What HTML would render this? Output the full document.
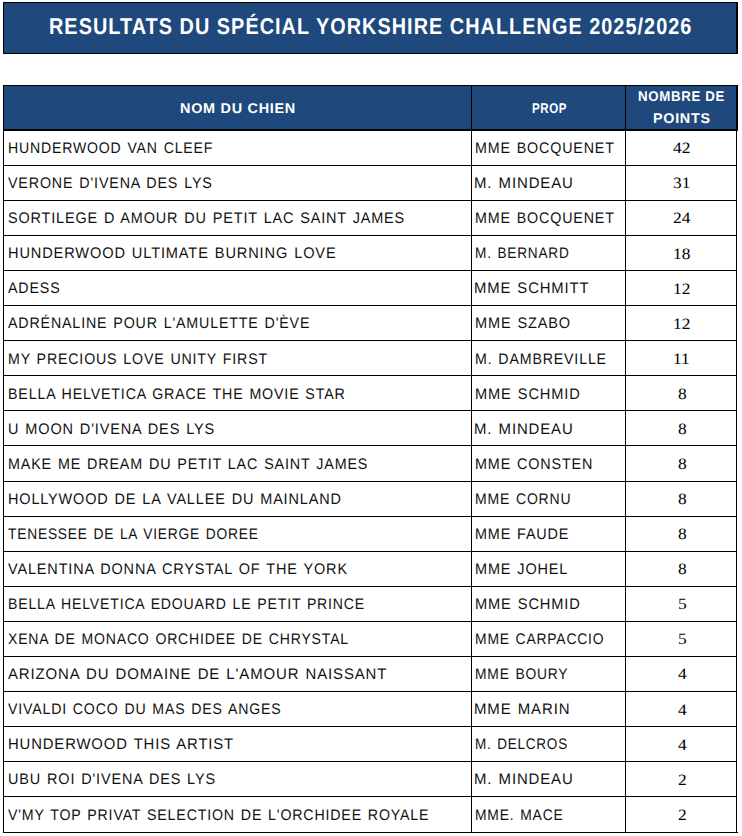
<!DOCTYPE html>
<html><head><meta charset="utf-8"><style>
*{margin:0;padding:0;box-sizing:border-box}
html,body{width:742px;height:836px;background:#fff;overflow:hidden}
body{position:relative;font-family:"Liberation Sans",sans-serif}
.box{position:absolute;background:#1f497d}
.bk{position:absolute;background:#000}
.hl{position:absolute;left:3px;width:734px;height:1px;background:#000}
span{position:absolute;white-space:nowrap;transform-origin:0 0;text-rendering:geometricPrecision}
.t{font-size:15.3px;line-height:15.3px;letter-spacing:0.9px;word-spacing:1.2px;color:#111}
.n{font-family:"Liberation Serif",serif;font-size:15.8px;line-height:15.8px;color:#000}
.h{font-size:14.1px;line-height:14.1px;font-weight:bold;color:#fff;letter-spacing:0.7px}
.ti{font-size:22.8px;line-height:22.8px;font-weight:bold;color:#fff;letter-spacing:1.2px}
</style></head><body>
<div class="box" style="left:3px;top:2px;width:735px;height:52px;border:1px solid #000;border-right-width:2px"></div>
<div class="box" style="left:3px;top:85px;width:735px;height:46px;border:1px solid #000;border-bottom-width:2px;border-right-width:2px"></div>
<div class="bk" style="left:471px;top:85px;width:1px;height:747px"></div>
<div class="bk" style="left:625px;top:85px;width:1px;height:747px"></div>
<div class="bk" style="left:3px;top:85px;width:1px;height:748px"></div>
<div class="bk" style="left:736px;top:85px;width:1px;height:748px"></div>
<div class="bk" style="left:3px;top:832px;width:735px;height:1px"></div>
<div class="hl" style="top:165px"></div><div class="hl" style="top:200px"></div><div class="hl" style="top:235px"></div><div class="hl" style="top:270px"></div><div class="hl" style="top:305px"></div><div class="hl" style="top:340px"></div><div class="hl" style="top:375px"></div><div class="hl" style="top:410px"></div><div class="hl" style="top:445px"></div><div class="hl" style="top:481px"></div><div class="hl" style="top:516px"></div><div class="hl" style="top:551px"></div><div class="hl" style="top:586px"></div><div class="hl" style="top:621px"></div><div class="hl" style="top:656px"></div><div class="hl" style="top:691px"></div><div class="hl" style="top:726px"></div><div class="hl" style="top:761px"></div><div class="hl" style="top:796px"></div>
<span class="ti" id="title" style="left:48.76px;top:14.80px;transform:scaleX(0.8701)">RESULTATS DU SPÉCIAL YORKSHIRE CHALLENGE 2025/2026</span>
<span class="h" id="h1" style="left:180.40px;top:100.66px;transform:scaleX(1.0232)">NOM DU CHIEN</span><span class="h" id="h2" style="left:532.00px;top:100.56px;transform:scaleX(0.8190)">PROP</span><span class="h" id="h3" style="left:637.99px;top:89.46px;transform:scaleX(0.9424)">NOMBRE DE</span><span class="h" id="h4" style="left:653.00px;top:111.36px;transform:scaleX(1.0179)">POINTS</span>
<span class="t" id="a0" style="left:8.00px;top:141.05px;transform:scaleX(0.9203)">HUNDERWOOD VAN CLEEF</span><span class="t" id="b0" style="left:474.59px;top:141.05px;transform:scaleX(0.9331)">MME BOCQUENET</span><span class="n" id="c0" style="left:673.00px;top:141.27px;transform:scaleX(1.1)">42</span><span class="t" id="a1" style="left:8.00px;top:176.13px;transform:scaleX(0.9344)">VERONE D'IVENA DES LYS</span><span class="t" id="b1" style="left:474.46px;top:176.13px;transform:scaleX(0.9780)">M. MINDEAU</span><span class="n" id="c1" style="left:673.10px;top:176.35px;transform:scaleX(1.1)">31</span><span class="t" id="a2" style="left:8.00px;top:211.21px;transform:scaleX(0.9429)">SORTILEGE D AMOUR DU PETIT LAC SAINT JAMES</span><span class="t" id="b2" style="left:474.59px;top:211.21px;transform:scaleX(0.9331)">MME BOCQUENET</span><span class="n" id="c2" style="left:673.00px;top:211.43px;transform:scaleX(1.1)">24</span><span class="t" id="a3" style="left:8.00px;top:246.29px;transform:scaleX(0.9542)">HUNDERWOOD ULTIMATE BURNING LOVE</span><span class="t" id="b3" style="left:474.63px;top:246.29px;transform:scaleX(0.8905)">M. BERNARD</span><span class="n" id="c3" style="left:672.78px;top:246.51px;transform:scaleX(1.1)">18</span><span class="t" id="a4" style="left:8.00px;top:281.37px;transform:scaleX(0.9309)">ADESS</span><span class="t" id="b4" style="left:474.48px;top:281.37px;transform:scaleX(0.9695)">MME SCHMITT</span><span class="n" id="c4" style="left:672.78px;top:281.59px;transform:scaleX(1.1)">12</span><span class="t" id="a5" style="left:8.00px;top:316.45px;transform:scaleX(0.9309)">ADRÉNALINE POUR L'AMULETTE D'ÈVE</span><span class="t" id="b5" style="left:474.53px;top:316.45px;transform:scaleX(0.9485)">MME SZABO</span><span class="n" id="c5" style="left:672.78px;top:316.67px;transform:scaleX(1.1)">12</span><span class="t" id="a6" style="left:8.00px;top:351.53px;transform:scaleX(0.9279)">MY PRECIOUS LOVE UNITY FIRST</span><span class="t" id="b6" style="left:474.56px;top:351.53px;transform:scaleX(0.9279)">M. DAMBREVILLE</span><span class="n" id="c6" style="left:673.10px;top:351.75px;transform:scaleX(1.1)">11</span><span class="t" id="a7" style="left:8.00px;top:386.61px;transform:scaleX(0.9296)">BELLA HELVETICA GRACE THE MOVIE STAR</span><span class="t" id="b7" style="left:474.51px;top:386.61px;transform:scaleX(0.9560)">MME SCHMID</span><span class="n" id="c7" style="left:677.66px;top:386.83px;transform:scaleX(1.1)">8</span><span class="t" id="a8" style="left:8.00px;top:421.69px;transform:scaleX(0.9477)">U MOON D'IVENA DES LYS</span><span class="t" id="b8" style="left:474.46px;top:421.69px;transform:scaleX(0.9770)">M. MINDEAU</span><span class="n" id="c8" style="left:677.66px;top:421.91px;transform:scaleX(1.1)">8</span><span class="t" id="a9" style="left:8.00px;top:456.77px;transform:scaleX(0.9367)">MAKE ME DREAM DU PETIT LAC SAINT JAMES</span><span class="t" id="b9" style="left:474.55px;top:456.77px;transform:scaleX(0.9395)">MME CONSTEN</span><span class="n" id="c9" style="left:677.66px;top:456.99px;transform:scaleX(1.1)">8</span><span class="t" id="a10" style="left:8.00px;top:491.85px;transform:scaleX(0.9452)">HOLLYWOOD DE LA VALLEE DU MAINLAND</span><span class="t" id="b10" style="left:474.60px;top:491.85px;transform:scaleX(0.9155)">MME CORNU</span><span class="n" id="c10" style="left:677.66px;top:492.07px;transform:scaleX(1.1)">8</span><span class="t" id="a11" style="left:8.00px;top:526.93px;transform:scaleX(0.8982)">TENESSEE DE LA VIERGE DOREE</span><span class="t" id="b11" style="left:474.55px;top:526.93px;transform:scaleX(0.9398)">MME FAUDE</span><span class="n" id="c11" style="left:677.66px;top:527.15px;transform:scaleX(1.1)">8</span><span class="t" id="a12" style="left:8.00px;top:562.01px;transform:scaleX(0.9458)">VALENTINA DONNA CRYSTAL OF THE YORK</span><span class="t" id="b12" style="left:474.53px;top:562.01px;transform:scaleX(0.9454)">MME JOHEL</span><span class="n" id="c12" style="left:677.66px;top:562.23px;transform:scaleX(1.1)">8</span><span class="t" id="a13" style="left:8.00px;top:597.09px;transform:scaleX(0.9196)">BELLA HELVETICA EDOUARD LE PETIT PRINCE</span><span class="t" id="b13" style="left:474.51px;top:597.09px;transform:scaleX(0.9560)">MME SCHMID</span><span class="n" id="c13" style="left:677.59px;top:597.31px;transform:scaleX(1.1)">5</span><span class="t" id="a14" style="left:8.00px;top:632.17px;transform:scaleX(0.9170)">XENA DE MONACO ORCHIDEE DE CHRYSTAL</span><span class="t" id="b14" style="left:474.61px;top:632.17px;transform:scaleX(0.9071)">MME CARPACCIO</span><span class="n" id="c14" style="left:677.59px;top:632.39px;transform:scaleX(1.1)">5</span><span class="t" id="a15" style="left:8.00px;top:667.25px;transform:scaleX(0.9771)">ARIZONA DU DOMAINE DE L'AMOUR NAISSANT</span><span class="t" id="b15" style="left:474.62px;top:667.25px;transform:scaleX(0.9029)">MME BOURY</span><span class="n" id="c15" style="left:677.66px;top:667.47px;transform:scaleX(1.1)">4</span><span class="t" id="a16" style="left:8.00px;top:702.33px;transform:scaleX(0.9237)">VIVALDI COCO DU MAS DES ANGES</span><span class="t" id="b16" style="left:474.47px;top:702.33px;transform:scaleX(0.9784)">MME MARIN</span><span class="n" id="c16" style="left:677.66px;top:702.55px;transform:scaleX(1.1)">4</span><span class="t" id="a17" style="left:8.00px;top:737.41px;transform:scaleX(0.9703)">HUNDERWOOD THIS ARTIST</span><span class="t" id="b17" style="left:474.65px;top:737.41px;transform:scaleX(0.8817)">M. DELCROS</span><span class="n" id="c17" style="left:677.66px;top:737.63px;transform:scaleX(1.1)">4</span><span class="t" id="a18" style="left:8.00px;top:772.49px;transform:scaleX(0.9438)">UBU ROI D'IVENA DES LYS</span><span class="t" id="b18" style="left:474.46px;top:772.49px;transform:scaleX(0.9770)">M. MINDEAU</span><span class="n" id="c18" style="left:678.21px;top:772.71px;transform:scaleX(1.1)">2</span><span class="t" id="a19" style="left:8.00px;top:807.57px;transform:scaleX(0.9276)">V'MY TOP PRIVAT SELECTION DE L'ORCHIDEE ROYALE</span><span class="t" id="b19" style="left:474.61px;top:807.57px;transform:scaleX(0.9062)">MME. MACE</span><span class="n" id="c19" style="left:678.21px;top:807.79px;transform:scaleX(1.1)">2</span>
</body></html>
